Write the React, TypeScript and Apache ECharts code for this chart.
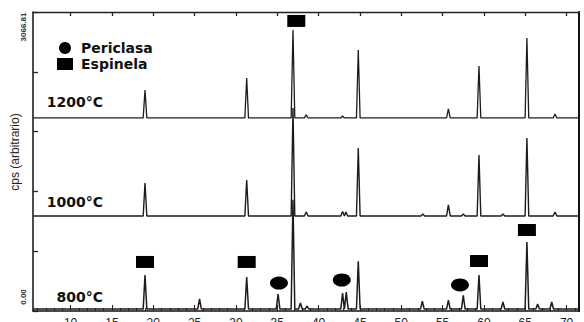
import React, { useEffect, useRef } from "react";
import * as echarts from "echarts";

// X axis (2θ, degrees)
const xMin = 5.45;
const xMax = 71.5;
const xLabelValues = [10, 15, 20, 25, 30, 35, 40, 45, 50, 55, 60, 65, 70];
const xMinorTicks = [6, 7, 8, 9, 10, 11, 12, 13, 14, 15, 16, 17, 18, 19, 20, 21, 22, 23, 24, 25, 26, 27, 28, 29, 30, 31, 32, 33, 34, 35, 36, 37, 38, 39, 40, 41, 42, 43, 44, 45, 46, 47, 48, 49, 50, 51, 52, 53, 54, 55, 56, 57, 58, 59, 60, 61, 62, 63, 64, 65, 66, 67, 68, 69, 70, 71];

// Y axis (cps)
const yMax = 3066.81;
const yTickLabels = ["0.00", "3066.81"];

// Traces: baseline, peak angles and peak heights above the baseline
const base1200 = 1980;
const angles1200 = [19.0, 31.3, 36.9, 38.5, 42.9, 44.8, 55.7, 59.4, 65.2, 68.6];
const heights1200 = [287, 410, 903, 31, 20, 697, 92, 533, 820, 41];

const base1000 = 975;
const angles1000 = [19.0, 31.3, 36.9, 38.5, 42.9, 43.3, 44.8, 52.6, 55.7, 57.5, 59.4, 62.3, 65.2, 68.6];
const heights1000 = [338, 369, 1108, 41, 45, 40, 697, 20, 113, 20, 626, 20, 800, 41];

const base800 = 20;
const angles800 = [19.0, 25.6, 31.3, 35.1, 36.9, 37.8, 38.6, 42.9, 43.35, 44.8, 52.55, 55.7, 57.5, 59.4, 62.3, 65.2, 66.5, 68.2];
const heights800 = [349, 103, 328, 154, 1120, 62, 30, 164, 174, 490, 82, 92, 140, 349, 72, 687, 51, 72];

const traceLabels = ["1200°C", "1000°C", "800°C"];

// Phase markers [2θ, cps]
const periclasaMarks = [
  [35.2, 287],
  [42.8, 318],
  [57.1, 267],
];
const espinelaMarks = [
  [19.0, 503],
  [31.3, 503],
  [59.4, 513],
  [65.2, 831],
  [37.3, 2975],
];

function buildTrace(base: number, angles: number[], heights: number[]) {
  const w = 0.22;
  const pts: number[][] = [[xMin, base]];
  angles.forEach((a, i) => {
    pts.push([a - w, base]);
    pts.push([a, base + heights[i]]);
    pts.push([a + w, base]);
  });
  pts.push([xMax, base]);
  return pts;
}

export default function App() {
  const ref = useRef<HTMLDivElement>(null);
  useEffect(() => {
    if (!ref.current) return;
    const chart = echarts.init(ref.current, null, { renderer: "svg" });
    const lineColor = "#1c1c1c";
    const grid = { left: 33, right: 5, top: 12, bottom: 11, outerBoundsMode: "none", containLabel: false };
    const tempLabel = (text: string, y: number) => ({
      type: "text",
      x: 103,
      y,
      style: {
        text,
        fontSize: 14,
        fontWeight: "bold",
        fontFamily: "DejaVu Sans",
        fill: "#111",
        align: "right",
        verticalAlign: "middle",
      },
    });
    const option: any = {
      animation: false,
      backgroundColor: "#ffffff",
      grid,
      legend: {
        orient: "vertical",
        left: 52,
        top: 36,
        itemWidth: 16,
        itemHeight: 12,
        itemGap: 2,
        textStyle: {
          fontFamily: "DejaVu Sans",
          fontWeight: "bold",
          fontSize: 14,
          color: "#111",
          lineHeight: 14,
          padding: [0, 0, 0, 3],
        },
        data: [
          { name: "Periclasa", icon: "circle" },
          { name: "Espinela", icon: "rect" },
        ],
      },
      xAxis: [
        {
          type: "value",
          position: "bottom",
          min: xMin,
          max: xMax,
          axisLine: { onZero: false, lineStyle: { color: "#111", width: 1.5 } },
          axisTick: { inside: true, length: 3, customValues: xMinorTicks, lineStyle: { color: "#222" } },
          axisLabel: {
            customValues: xLabelValues,
            fontSize: 12,
            margin: 6,
            color: "#222",
            fontFamily: "Liberation Sans",
          },
          splitLine: { show: false },
        },
        {
          type: "value",
          position: "bottom",
          min: xMin,
          max: xMax,
          axisLine: { show: false, onZero: false },
          axisTick: { inside: true, length: 6, customValues: xLabelValues, lineStyle: { color: "#222" } },
          axisLabel: { show: false },
          splitLine: { show: false },
        },
        {
          type: "value",
          position: "top",
          min: xMin,
          max: xMax,
          axisLine: { onZero: false, lineStyle: { color: "#222", width: 1.3 } },
          axisTick: { inside: true, length: 4, customValues: xLabelValues, lineStyle: { color: "#222", width: 1.3 } },
          axisLabel: { show: false },
          splitLine: { show: false },
        },
      ],
      yAxis: [
        {
          type: "value",
          position: "left",
          min: 0,
          max: yMax,
          interval: yMax / 5,
          axisLine: { onZero: false, lineStyle: { color: "#111", width: 1.5 } },
          axisTick: { inside: true, length: 5, lineStyle: { color: "#222", width: 1.3 } },
          axisLabel: { show: false },
          splitLine: { show: false },
        },
        {
          type: "value",
          position: "right",
          min: 0,
          max: yMax,
          interval: yMax / 5,
          axisLine: { onZero: false, lineStyle: { color: "#111", width: 2 } },
          axisTick: { show: false },
          axisLabel: { show: false },
          splitLine: { show: false },
        },
      ],
      series: [
        {
          name: traceLabels[0],
          type: "line",
          data: buildTrace(base1200, angles1200, heights1200),
          showSymbol: false,
          lineStyle: { color: lineColor, width: 1.3 },
          z: 2,
        },
        {
          name: traceLabels[1],
          type: "line",
          data: buildTrace(base1000, angles1000, heights1000),
          showSymbol: false,
          lineStyle: { color: lineColor, width: 1.4 },
          z: 2,
        },
        {
          name: traceLabels[2],
          type: "line",
          data: buildTrace(base800, angles800, heights800),
          showSymbol: false,
          lineStyle: { color: lineColor, width: 1.5 },
          z: 2,
        },
        {
          name: "Periclasa",
          type: "scatter",
          data: periclasaMarks,
          symbol: "circle",
          symbolSize: [18, 13],
          itemStyle: { color: "#000", opacity: 1 },
          z: 3,
        },
        {
          name: "Espinela",
          type: "scatter",
          data: espinelaMarks,
          symbol: "rect",
          symbolSize: [18, 12],
          itemStyle: { color: "#000", opacity: 1 },
          z: 3,
        },
      ],
      graphic: [
        {
          type: "text",
          x: 15,
          y: 152,
          rotation: Math.PI / 2,
          style: {
            text: "cps (arbitrario)",
            fontSize: 12,
            fontFamily: "Liberation Sans",
            fill: "#222",
            align: "center",
            verticalAlign: "middle",
          },
        },
        {
          type: "text",
          x: 23,
          y: 27,
          rotation: Math.PI / 2,
          style: {
            text: yTickLabels[1],
            fontSize: 8,
            fontWeight: "bold",
            fontFamily: "Liberation Sans",
            fill: "#333",
            align: "center",
            verticalAlign: "middle",
          },
        },
        {
          type: "text",
          x: 23,
          y: 297,
          rotation: Math.PI / 2,
          style: {
            text: yTickLabels[0],
            fontSize: 8,
            fontWeight: "bold",
            fontFamily: "Liberation Sans",
            fill: "#333",
            align: "center",
            verticalAlign: "middle",
          },
        },
        tempLabel(traceLabels[0], 102),
        tempLabel(traceLabels[1], 202),
        tempLabel(traceLabels[2], 297),
      ],
    };
    chart.setOption(option);
    return () => chart.dispose();
  }, []);
  return (
    <div
      ref={ref}
      style={{ position: "absolute", left: 0, top: 0, width: 584, height: 322, background: "#fff" }}
    />
  );
}
